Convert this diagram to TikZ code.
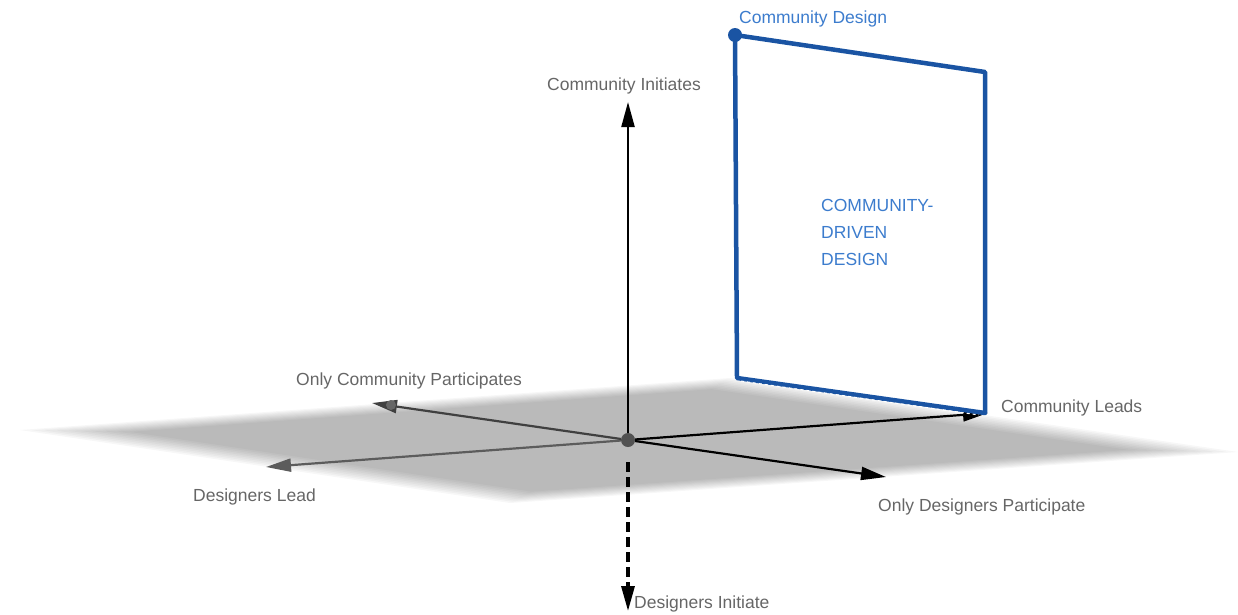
\documentclass[tikz,border=0pt]{standalone}
\usepackage{fontspec}
\setmainfont{Liberation Sans}
\usetikzlibrary{arrows.meta,calc}
\definecolor{axisgray}{RGB}{102,102,102}
\definecolor{designblue}{RGB}{26,84,163}
\definecolor{labelblue}{RGB}{60,124,205}

\begin{document}
\begin{tikzpicture}[x=1pt,y=-1pt,
  every node/.style={font=\fontsize{17.5}{21}\selectfont, text=axisgray, inner sep=0pt},
  axis/.style={line width=2.2pt, -{Triangle[length=25pt,width=13pt]}},
  dot/.style={circle, minimum size=14pt, inner sep=0pt}]
\useasboundingbox (0,0) rectangle (1238,614);
% plane corners
\coordinate (PL) at (20,430);
\coordinate (PT) at (730,378);
\coordinate (PR) at (1238,452);
\coordinate (PB) at (510,503);
\coordinate (PC) at (629,440);
\foreach \s in {1,0.98,...,0.81}
  \fill[black, fill opacity=0.031] ($(PC)!\s!(PL)$) -- ($(PC)!\s!(PT)$) -- ($(PC)!\s!(PR)$) -- ($(PC)!\s!(PB)$) -- cycle;
% axes
\node[dot, fill=axisgray!80!black] (O) at (628,440) {};
\coordinate (CI) at (628,102);
\coordinate (DIs) at (628,462);
\coordinate (DI) at (628,611);
\coordinate (CL) at (988,413);
\coordinate (ODP) at (886,477);
\coordinate (DL) at (266,467);
\coordinate (OCP) at (372,403);
\draw[axis, black] (O) -- (CI);
\draw[axis, black, dash pattern=on 10pt off 5pt, line width=3.2pt] (DIs) -- (DI);
\draw[axis, black] (O) -- (CL);
\draw[axis, black] (O) -- (ODP);
\draw[axis, axisgray!90!black] (O) -- (DL);
\draw[axis, black!75] (O) -- (OCP);
\node[dot, minimum size=10pt, fill=axisgray] (OCPd) at (391,405) {};
% community-driven design face
\node[dot, fill=designblue] (CD) at (735,35) {};
\coordinate (CDr) at (985,72);
\coordinate (CLr) at (985,413);
\coordinate (CDb) at (737,378);
\draw[designblue, line width=4.5pt, line join=round] (CD.center) -- (CDr) -- (CLr) -- (CDb) -- cycle;
\draw[white, line width=1pt, dash pattern=on 3pt off 3pt] ($(CDb)+(4,3)$) -- ($(CLr)+(-6,2)$);
% labels
\node (tCI) at (624,86) {Community Initiates};
\node[anchor=west] (tDI) at (634,604) {Designers Initiate};
\node[anchor=west] (tCL) at (1001,408) {Community Leads};
\node[anchor=west] (tODP) at (878,507) {Only Designers Participate};
\node[anchor=west] (tDL) at (193,497) {Designers Lead};
\node[anchor=west] (tOCP) at (296,381) {Only Community Participates};
\node[anchor=west, text=labelblue] (tCD) at (739,19) {Community Design};
\node[anchor=north west, text=labelblue, align=left, font=\fontsize{17.5}{27}\selectfont] (tCDD) at (821,199) {COMMUNITY-\\DRIVEN\\DESIGN};
\end{tikzpicture}
\end{document}
